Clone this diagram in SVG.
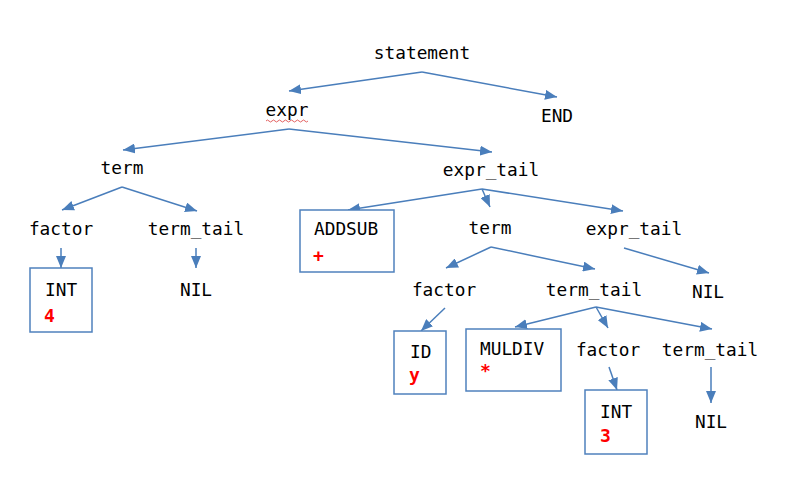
<svg xmlns="http://www.w3.org/2000/svg" width="792" height="491" viewBox="0 0 792 491">
<style>
.t{font-family:"DejaVu Sans Mono","Liberation Mono",monospace;font-size:17.8px;fill:#000}
.c{text-anchor:middle}
.r{font-family:"DejaVu Sans Mono","Liberation Mono",monospace;font-size:18px;font-weight:bold;fill:#ff0000}
.box{fill:#fff;stroke:#4f81bd;stroke-width:1.5}
.e{stroke:#4a7ebb;stroke-width:1.5;fill:none;marker-end:url(#ah)}
</style>
<defs>
<marker id="ah" markerUnits="userSpaceOnUse" markerWidth="12" markerHeight="10" refX="12" refY="5" orient="auto">
<path d="M0,0 L12,5 L0,10 z" fill="#4a7ebb"/>
</marker>
</defs>
<rect width="792" height="491" fill="#fff"/>
<g id="connectors">
<line class="e" x1="422" y1="72" x2="289" y2="91"/>
<line class="e" x1="422" y1="72" x2="557" y2="97"/>
<line class="e" x1="289" y1="129" x2="123" y2="150"/>
<line class="e" x1="289" y1="129" x2="492" y2="152"/>
<line class="e" x1="122" y1="187" x2="62" y2="210"/>
<line class="e" x1="122" y1="187" x2="197" y2="211"/>
<line class="e" x1="61" y1="248" x2="61" y2="268"/>
<line class="e" x1="196" y1="248" x2="196" y2="268"/>
<line class="e" x1="482" y1="189" x2="348" y2="210"/>
<line class="e" x1="482" y1="189" x2="490" y2="207"/>
<line class="e" x1="482" y1="189" x2="623" y2="211"/>
<line class="e" x1="491" y1="247" x2="446" y2="268"/>
<line class="e" x1="491" y1="247" x2="595" y2="269"/>
<line class="e" x1="624" y1="248" x2="709" y2="273"/>
<line class="e" x1="445" y1="308" x2="421" y2="331"/>
<line class="e" x1="596" y1="307" x2="515" y2="327"/>
<line class="e" x1="596" y1="307" x2="608" y2="328"/>
<line class="e" x1="596" y1="307" x2="712" y2="329"/>
<line class="e" x1="609" y1="367" x2="617" y2="390"/>
<line class="e" x1="711" y1="367" x2="711" y2="403"/>
</g>
<g id="n-statement"><text class="t c" x="422" y="59">statement</text></g>
<g id="n-expr"><text class="t c" x="287" y="116">expr</text>
<path d="M266,121 q1.5,-2 3,0 t3,0 t3,0 t3,0 t3,0 t3,0 t3,0 t3,0 t3,0 t3,0 t3,0 t3,0 t3,0 t3,0" fill="none" stroke="#e05050" stroke-width="0.9"/></g>
<g id="n-end"><text class="t c" x="557" y="122">END</text></g>
<g id="n-term1"><text class="t c" x="122" y="174">term</text></g>
<g id="n-exprtail1"><text class="t c" x="491" y="176">expr_tail</text></g>
<g id="n-factor1"><text class="t c" x="61" y="235">factor</text></g>
<g id="n-termtail1"><text class="t c" x="196" y="235">term_tail</text></g>
<g id="n-int4"><rect class="box" x="30" y="268" width="62" height="64"/>
<text class="t" x="45" y="296">INT</text><text class="r" x="44" y="322">4</text></g>
<g id="n-nil1"><text class="t c" x="196" y="296">NIL</text></g>
<g id="n-addsub"><rect class="box" x="300" y="210" width="94" height="62"/>
<text class="t" x="314" y="235">ADDSUB</text><text class="r" x="313" y="262">+</text></g>
<g id="n-term2"><text class="t c" x="490" y="234">term</text></g>
<g id="n-exprtail2"><text class="t c" x="634" y="235">expr_tail</text></g>
<g id="n-factor2"><text class="t c" x="444" y="296">factor</text></g>
<g id="n-termtail2"><text class="t c" x="594" y="296">term_tail</text></g>
<g id="n-nil2"><text class="t c" x="708" y="298">NIL</text></g>
<g id="n-idy"><rect class="box" x="394" y="331" width="52" height="63"/>
<text class="t" x="410" y="358">ID</text><text class="r" x="409" y="381">y</text></g>
<g id="n-muldiv"><rect class="box" x="466" y="329" width="95" height="62"/>
<text class="t" x="480" y="355">MULDIV</text><text class="r" x="480" y="377">*</text></g>
<g id="n-factor3"><text class="t c" x="608" y="356">factor</text></g>
<g id="n-termtail3"><text class="t c" x="710" y="356">term_tail</text></g>
<g id="n-int3"><rect class="box" x="585" y="390" width="62" height="64"/>
<text class="t" x="600" y="418">INT</text><text class="r" x="600" y="442">3</text></g>
<g id="n-nil3"><text class="t c" x="711" y="428">NIL</text></g>
</svg>
